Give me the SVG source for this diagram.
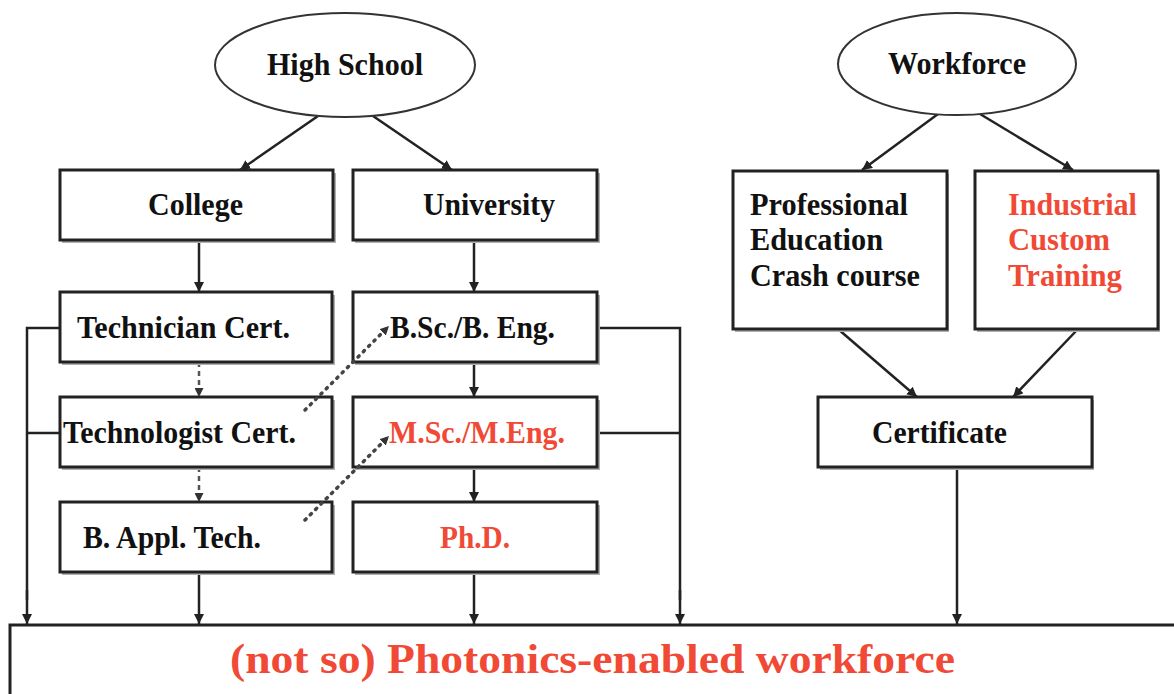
<svg xmlns="http://www.w3.org/2000/svg" width="1174" height="694" viewBox="0 0 1174 694">
<defs>
<marker id="ah" viewBox="0 0 10 10" refX="10" refY="5" markerWidth="10" markerHeight="10" markerUnits="userSpaceOnUse" orient="auto">
<path d="M0,0 L10,5 L0,10 z" fill="#222"/>
</marker>
<marker id="ahs" viewBox="0 0 10 10" refX="10" refY="5" markerWidth="9" markerHeight="9" markerUnits="userSpaceOnUse" orient="auto">
<path d="M0,0 L10,5 L0,10 z" fill="#333"/>
</marker>
</defs>
<style>
.box{fill:#fff;stroke:#222;stroke-width:3}
.sh{fill:#b0b0b0}
.t{font-family:"Liberation Serif","Times New Roman",serif;font-weight:bold;font-size:31px;fill:#111}
.r{fill:#f04a36}
.big{font-size:42px}
.c{stroke:#222;stroke-width:2.5;fill:none}
.ca{stroke:#222;stroke-width:2.5;fill:none;marker-end:url(#ah)}
.dash{stroke:#555;stroke-width:2.5;fill:none;stroke-dasharray:5 4;marker-end:url(#ahs)}
.dot{stroke:#444;stroke-width:3.5;fill:none;stroke-dasharray:1.5 6;stroke-linecap:round;marker-end:url(#ahs)}
</style>
<rect width="1174" height="694" fill="#fff"/>

<g id="connectors">
<line class="ca" x1="318" y1="116" x2="240" y2="170"/>
<line class="ca" x1="373" y1="116" x2="452" y2="170"/>
<line class="ca" x1="938" y1="114" x2="862" y2="170"/>
<line class="ca" x1="980" y1="114" x2="1073" y2="170"/>
<line class="ca" x1="199" y1="240" x2="199" y2="292"/>
<line class="ca" x1="474" y1="240" x2="474" y2="292"/>
<line class="dash" x1="199" y1="362" x2="199" y2="397"/>
<line class="dash" x1="199" y1="467" x2="199" y2="502"/>
<line class="ca" x1="474" y1="362" x2="474" y2="397"/>
<line class="ca" x1="474" y1="467" x2="474" y2="502"/>
<line class="ca" x1="838" y1="329" x2="917" y2="397"/>
<line class="ca" x1="1078" y1="329" x2="1013" y2="397"/>
<polyline class="c" points="60,328 27,328 27,600"/>
<line class="ca" x1="27" y1="590" x2="27" y2="624"/>
<line class="c" x1="27" y1="433" x2="60" y2="433"/>
<polyline class="c" points="597,328 680,328 680,600"/>
<line class="ca" x1="680" y1="590" x2="680" y2="624"/>
<line class="c" x1="597" y1="433" x2="680" y2="433"/>
<line class="ca" x1="199" y1="572" x2="199" y2="624"/>
<line class="ca" x1="474" y1="572" x2="474" y2="624"/>
<line class="ca" x1="957" y1="467" x2="957" y2="624"/>
</g>

<g id="high-school">
<ellipse cx="345" cy="65" rx="130" ry="52" fill="#fff" stroke="#333" stroke-width="2"/>
<text class="t" x="345" y="75" text-anchor="middle" textLength="156" lengthAdjust="spacingAndGlyphs">High School</text>
</g>
<g id="workforce">
<ellipse cx="957" cy="64" rx="119" ry="51" fill="#fff" stroke="#333" stroke-width="2"/>
<text class="t" x="957" y="74" text-anchor="middle" textLength="138" lengthAdjust="spacingAndGlyphs">Workforce</text>
</g>

<g id="college">
<rect class="sh" x="62" y="173" width="274" height="70"/>
<rect class="box" x="60" y="170" width="273" height="70"/>
<text class="t" x="148" y="215" textLength="95" lengthAdjust="spacingAndGlyphs">College</text>
</g>
<g id="university">
<rect class="sh" x="355" y="173" width="245" height="70"/>
<rect class="box" x="353" y="170" width="244" height="70"/>
<text class="t" x="423" y="215" textLength="132" lengthAdjust="spacingAndGlyphs">University</text>
</g>

<g id="technician">
<rect class="sh" x="62" y="295" width="273" height="70"/>
<rect class="box" x="60" y="292" width="272" height="70"/>
<text class="t" x="77" y="338" textLength="213" lengthAdjust="spacingAndGlyphs">Technician Cert.</text>
</g>
<g id="technologist">
<rect class="sh" x="62" y="400" width="273" height="70"/>
<rect class="box" x="60" y="397" width="272" height="70"/>
<text class="t" x="63" y="443" textLength="233" lengthAdjust="spacingAndGlyphs">Technologist Cert.</text>
</g>
<g id="bappl">
<rect class="sh" x="62" y="505" width="273" height="70"/>
<rect class="box" x="60" y="502" width="272" height="70"/>
<text class="t" x="83" y="548" textLength="178" lengthAdjust="spacingAndGlyphs">B. Appl. Tech.</text>
</g>

<g id="bsc">
<rect class="sh" x="355" y="295" width="245" height="70"/>
<rect class="box" x="353" y="292" width="244" height="70"/>
<text class="t" x="390" y="338" textLength="165" lengthAdjust="spacingAndGlyphs">B.Sc./B. Eng.</text>
</g>
<g id="msc">
<rect class="sh" x="355" y="400" width="245" height="70"/>
<rect class="box" x="353" y="397" width="244" height="70"/>
<text class="t r" x="389" y="443" textLength="176" lengthAdjust="spacingAndGlyphs">M.Sc./M.Eng.</text>
</g>
<g id="phd">
<rect class="sh" x="355" y="505" width="245" height="70"/>
<rect class="box" x="353" y="502" width="244" height="70"/>
<text class="t r" x="440" y="548" textLength="70" lengthAdjust="spacingAndGlyphs">Ph.D.</text>
</g>

<g id="professional">
<rect class="sh" x="735" y="174" width="214" height="158"/>
<rect class="box" x="733" y="171" width="214" height="158"/>
<text class="t" x="750" y="215" textLength="158" lengthAdjust="spacingAndGlyphs">Professional</text>
<text class="t" x="750" y="250" textLength="133" lengthAdjust="spacingAndGlyphs">Education</text>
<text class="t" x="750" y="286" textLength="170" lengthAdjust="spacingAndGlyphs">Crash course</text>
</g>
<g id="industrial">
<rect class="sh" x="977" y="174" width="183" height="158"/>
<rect class="box" x="975" y="171" width="183" height="158"/>
<text class="t r" x="1008" y="215" textLength="129" lengthAdjust="spacingAndGlyphs">Industrial</text>
<text class="t r" x="1008" y="250" textLength="102" lengthAdjust="spacingAndGlyphs">Custom</text>
<text class="t r" x="1008" y="286" textLength="114" lengthAdjust="spacingAndGlyphs">Training</text>
</g>
<g id="certificate">
<rect class="sh" x="820" y="400" width="274" height="70"/>
<rect class="box" x="818" y="397" width="274" height="70"/>
<text class="t" x="872" y="443" textLength="135" lengthAdjust="spacingAndGlyphs">Certificate</text>
</g>

<g id="photonics-workforce">
<rect class="sh" x="12" y="628" width="1170" height="80"/>
<rect class="box" x="10" y="625" width="1170" height="80"/>
<text class="t r big" x="230" y="673" textLength="725" lengthAdjust="spacingAndGlyphs">(not so) Photonics-enabled workforce</text>
</g>

<g id="cross-connectors">
<line class="dot" x1="305" y1="410" x2="389" y2="326"/>
<line class="dot" x1="305" y1="520" x2="389" y2="436"/>
</g>
</svg>
